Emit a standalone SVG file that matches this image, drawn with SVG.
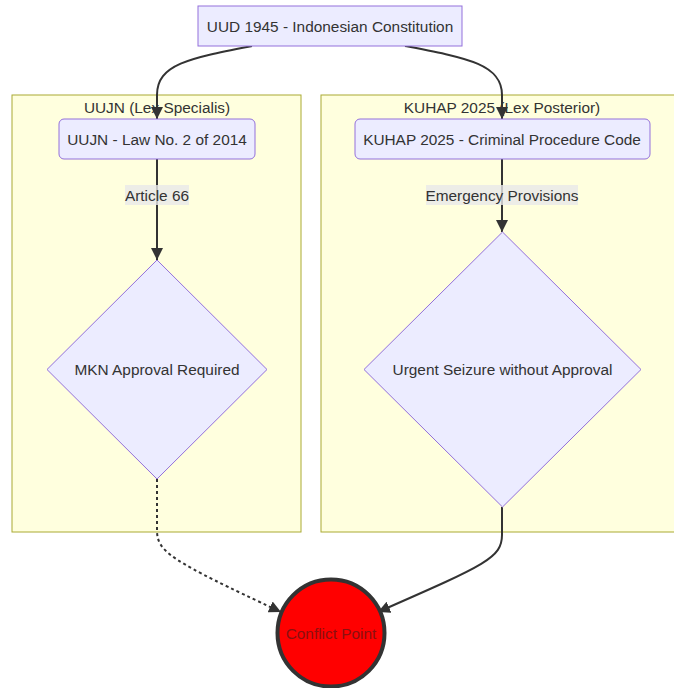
<svg xmlns="http://www.w3.org/2000/svg" width="674" height="688" viewBox="0 0 674 688">
<style>
text{font-family:"Liberation Sans",Arial,sans-serif;font-size:15.4px;fill:#333;text-anchor:middle;dominant-baseline:central}
.cluster{fill:#ffffde;stroke:#aaaa33;stroke-width:1}
.node{fill:#ececff;stroke:#9370db;stroke-width:1}
.edge{fill:none;stroke:#333;stroke-width:2}
.dotted{stroke-dasharray:3 3}
.lbl{fill:#e8e8e8;opacity:0.8}
</style>
<defs>
<marker id="arrow" viewBox="0 0 12 12" refX="12" refY="6" markerWidth="12" markerHeight="12" markerUnits="userSpaceOnUse" orient="auto">
<path d="M0,0 L12,6 L0,12 z" fill="#333"/>
</marker>
</defs>
<rect width="674" height="688" fill="#fff"/>
<g id="cluster-uujn">
<rect class="cluster" x="12" y="95" width="289" height="437"/>
<text x="157" y="107">UUJN (Lex Specialis)</text>
</g>
<g id="cluster-kuhap">
<rect class="cluster" x="321" y="95" width="400" height="437"/>
<text x="502" y="107">KUHAP 2025 (Lex Posterior)</text>
</g>
<g id="connectors">
<path class="edge" d="M252,46 C190,58 157,64 157,95 L157,119" marker-end="url(#arrow)"/>
<path class="edge" d="M405,46 C467,58 502,64 502,95 L502,119" marker-end="url(#arrow)"/>
<path class="edge" d="M157,159 L157,260" marker-end="url(#arrow)"/>
<path class="edge" d="M502,159 L502,232" marker-end="url(#arrow)"/>
<path class="edge dotted" d="M157,479 L157,530 C157,552 170,560 281,612" marker-end="url(#arrow)"/>
<path class="edge" d="M502,507 L502,535 C502,558 485,565 378,612" marker-end="url(#arrow)"/>
</g>
<g id="label-article">
<rect class="lbl" x="125" y="185" width="64" height="20"/>
<text x="157" y="195">Article 66</text>
</g>
<g id="label-emergency">
<rect class="lbl" x="426" y="185" width="152" height="20"/>
<text x="502" y="195">Emergency Provisions</text>
</g>
<g id="node-uud">
<rect class="node" x="198" y="6" width="264" height="40"/>
<text x="330" y="26">UUD 1945 - Indonesian Constitution</text>
</g>
<g id="node-uujn">
<rect class="node" x="59" y="119" width="196" height="40" rx="5" ry="5"/>
<text x="157" y="139">UUJN - Law No. 2 of 2014</text>
</g>
<g id="node-kuhap">
<rect class="node" x="355" y="119" width="295" height="40" rx="5" ry="5"/>
<text x="502" y="139">KUHAP 2025 - Criminal Procedure Code</text>
</g>
<g id="node-mkn">
<polygon class="node" points="157,260 267,369.5 157,479 47,369.5"/>
<text x="157" y="369.5">MKN Approval Required</text>
</g>
<g id="node-urgent">
<polygon class="node" points="502.5,232 641,369.5 502.5,507 364,369.5"/>
<text x="502.5" y="369.5">Urgent Seizure without Approval</text>
</g>
<g id="node-conflict">
<circle cx="331" cy="633" r="53.5" fill="#ff0000" stroke="#333" stroke-width="4"/>
<text x="331" y="633" style="fill:#8b1010">Conflict Point</text>
</g>
</svg>
